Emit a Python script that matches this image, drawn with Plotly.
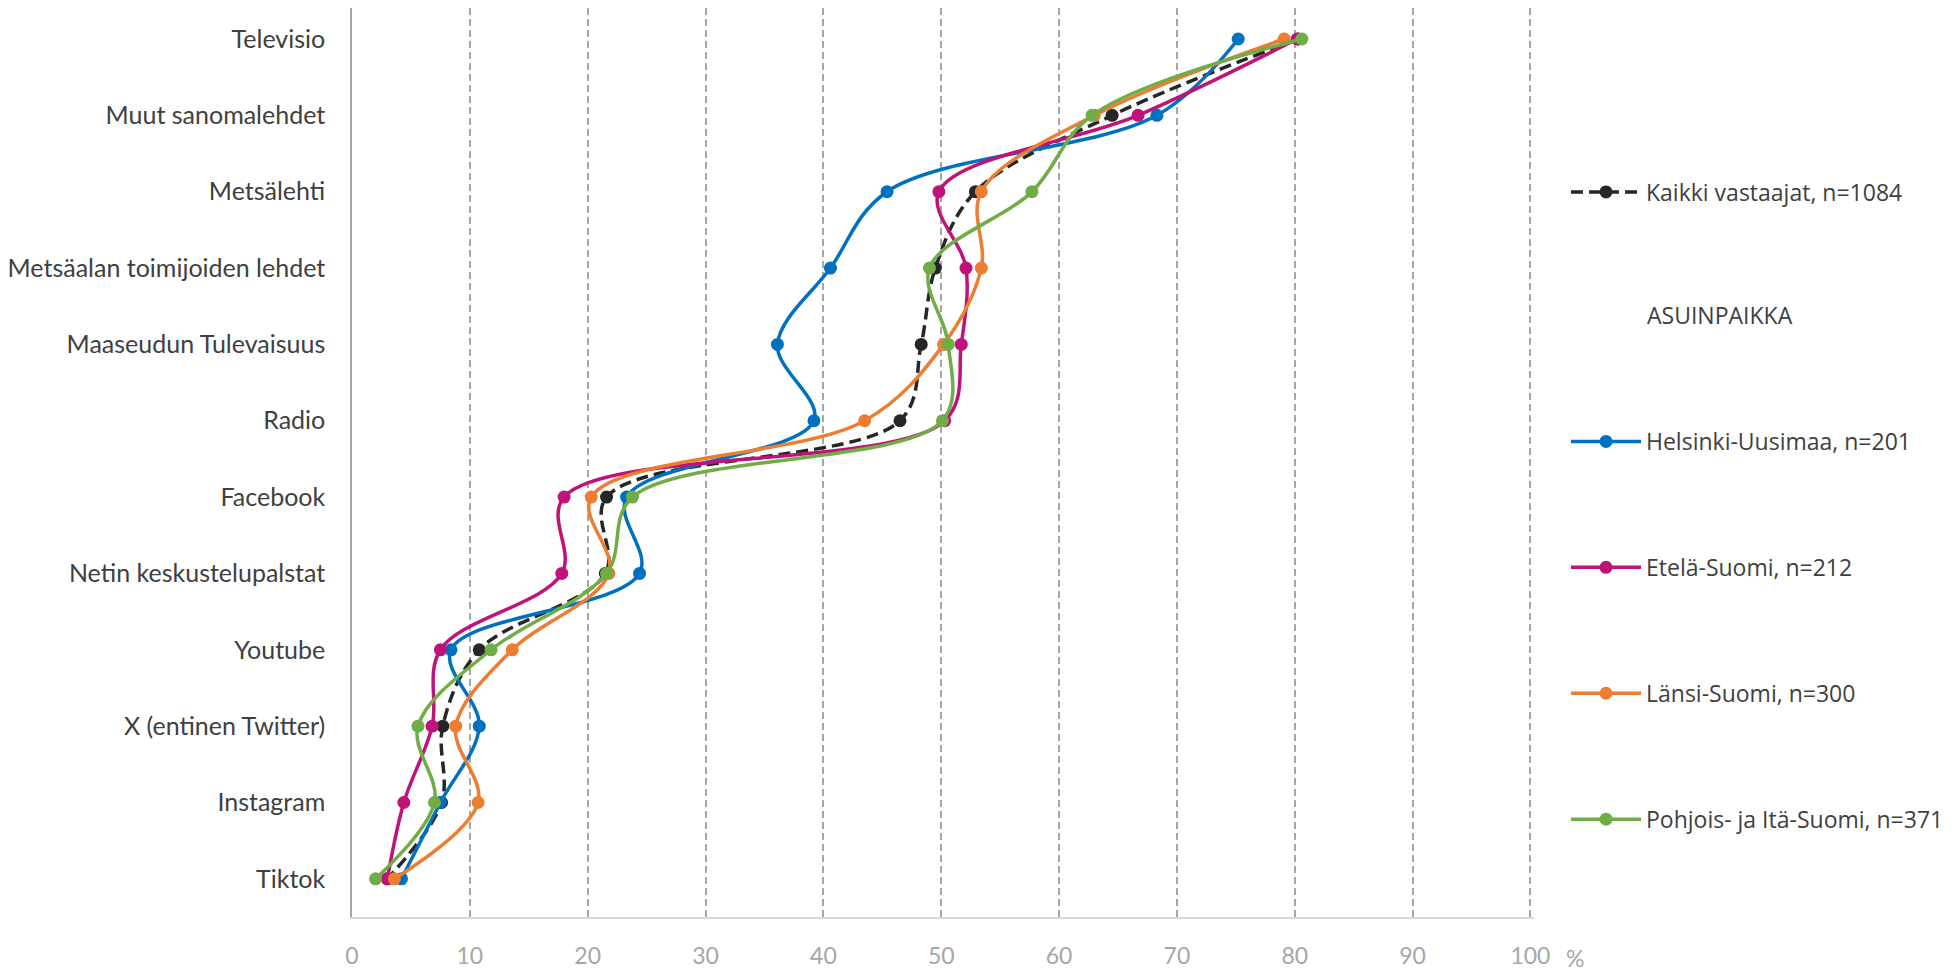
import plotly.graph_objects as go

categories = ["Televisio", "Muut sanomalehdet", "Metsälehti", "Metsäalan toimijoiden lehdet",
              "Maaseudun Tulevaisuus", "Radio", "Facebook", "Netin keskustelupalstat",
              "Youtube", "X (entinen Twitter)", "Instagram", "Tiktok"]

kaikki = [80.3, 64.5, 52.9, 49.5, 48.3, 46.5, 21.6, 21.5, 10.8, 7.7, 7.6, 3.0]
helsinki = [75.2, 68.3, 45.4, 40.6, 36.1, 39.2, 23.3, 24.4, 8.4, 10.8, 7.5, 4.2]
etela = [80.2, 66.7, 49.8, 52.1, 51.7, 50.3, 18.0, 17.8, 7.5, 6.8, 4.4, 3.0]
lansi = [79.1, 63.0, 53.4, 53.4, 50.2, 43.5, 20.3, 21.8, 13.6, 8.8, 10.7, 3.6]
pohjois = [80.6, 62.8, 57.7, 49.0, 50.6, 50.1, 23.8, 21.6, 11.8, 5.6, 7.0, 2.0]

x_ticks = [0, 10, 20, 30, 40, 50, 60, 70, 80, 90, 100]

series = [
    ("Kaikki vastaajat, n=1084", kaikki, "#262626", "12px,6px", "legend"),
    ("Helsinki-Uusimaa, n=201", helsinki, "#0070C0", "solid", "legend2"),
    ("Etelä-Suomi, n=212", etela, "#C0137A", "solid", "legend2"),
    ("Länsi-Suomi, n=300", lansi, "#ED7D31", "solid", "legend2"),
    ("Pohjois- ja Itä-Suomi, n=371", pohjois, "#70AD47", "solid", "legend2"),
]

# page has an 8px body margin; figure is sized so it fits the window
OFF = 8
W, H = 1959 - OFF, 972 - OFF
XMAX = 100.3
PL, PR, PT, PB = 352, 1530 + round(0.3 * 11.78), 8, 917  # plot area in page pixels


def px_x(p):
    return (p - PL) / (PR - PL)


def px_y(p):
    return (PB - p) / (PB - PT)


fig = go.Figure()
for i, (name, vals, color, dash, leg) in enumerate(series):
    fig.add_trace(go.Scatter(
        x=vals, y=categories, name=name, mode="lines+markers",
        line=dict(color=color, width=3.5, dash=dash, shape="spline", smoothing=1.0),
        marker=dict(color=color, size=13),
        legend=leg, legendgroup=str(i),
    ))

legend_font = dict(family="Open Sans", size=23, color="#404040")
fig.update_layout(
    width=W, height=H,
    margin=dict(l=PL - OFF, r=W - (PR - OFF), t=PT - OFF, b=H - (PB - OFF)),
    plot_bgcolor="white", paper_bgcolor="white",
    font=dict(family="Lato", color="#404040"),
    showlegend=True,
    legend=dict(x=px_x(1566), y=px_y(192),
                xanchor="left", yanchor="middle", font=legend_font,
                bgcolor="rgba(0,0,0,0)", itemwidth=70),
    legend2=dict(x=px_x(1566), y=px_y(420),
                 xanchor="left", yanchor="top", font=legend_font,
                 bgcolor="rgba(0,0,0,0)", tracegroupgap=93, itemwidth=70),
    xaxis=dict(range=[0, XMAX], tickvals=x_ticks, showgrid=True,
               gridcolor="#A6A6A6", griddash="7px,4px", gridwidth=1.5,
               zeroline=False, showline=True, linecolor="#D9D9D9", linewidth=2,
               tickfont=dict(family="Lato", size=23, color="#A6A6A6"),
               ticklabelstandoff=17, fixedrange=True),
    yaxis=dict(type="category", categoryorder="array", categoryarray=categories,
               range=[11.5, -0.406], showgrid=False, zeroline=False,
               showline=True, linecolor="#A6A6A6", linewidth=1.5,
               tickfont=dict(family="Lato", size=25, color="#404040"),
               ticklabelstandoff=20, fixedrange=True),
    annotations=[
        dict(text="ASUINPAIKKA", xref="paper", yref="paper",
             x=px_x(1645), y=px_y(315), xanchor="left", yanchor="middle",
             showarrow=False, font=legend_font),
        dict(text="%", xref="paper", yref="paper",
             x=px_x(1575), y=px_y(958), xanchor="center", yanchor="middle",
             showarrow=False, font=dict(family="Lato", size=23, color="#A6A6A6")),
    ],
)

fig.write_html("out.html")
